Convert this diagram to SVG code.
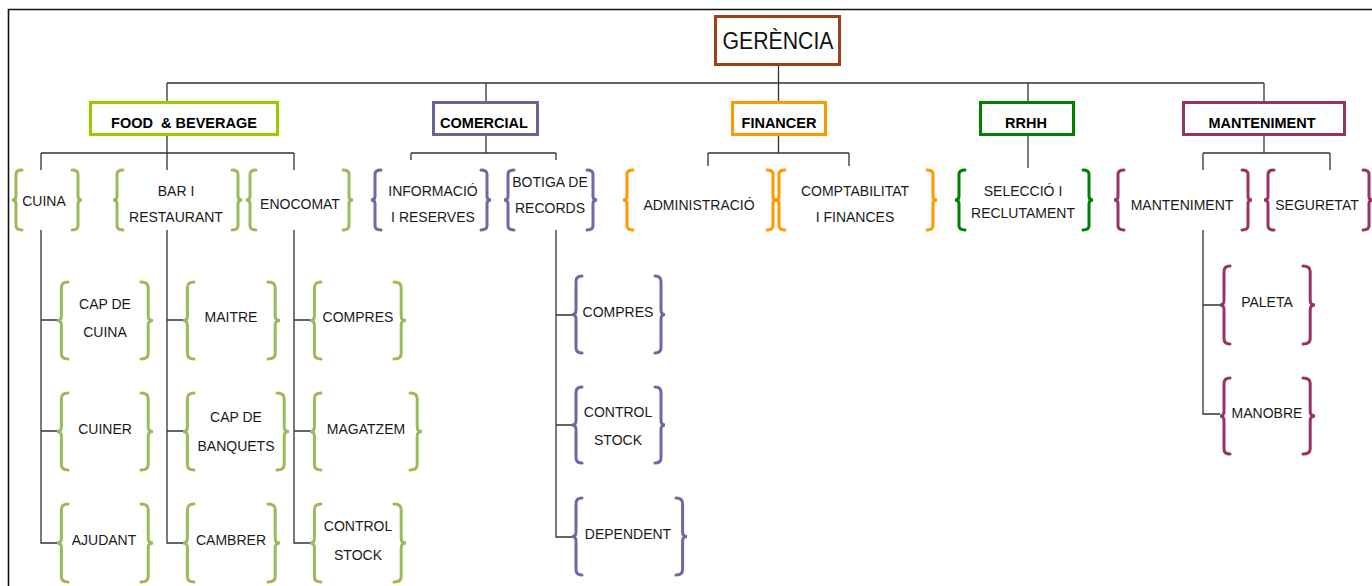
<svg xmlns="http://www.w3.org/2000/svg" xmlns:xlink="http://www.w3.org/1999/xlink" width="1372" height="586" viewBox="0 0 1372 586">
<style>
.ln{fill:none;stroke:#333;stroke-width:1.3}
.frame{fill:none;stroke:#111;stroke-width:1.6}
.box{fill:#fff;stroke-width:3}
.br{stroke-width:3}
.t{font-family:"Liberation Sans",Arial,sans-serif;font-size:14px;fill:#1a1a1a;text-anchor:middle}
.b{font-family:"Liberation Sans",Arial,sans-serif;font-size:14.5px;font-weight:bold;fill:#000;text-anchor:middle;white-space:pre}
.g{stroke:#9BBB59}.p{stroke:#6B6BA3}.o{stroke:#FF9900}.dg{stroke:#008000}.m{stroke:#993366}
</style>
<defs>
<path id="lb" d="M10,0 Q4,0 4,7 L4,44 Q4,50 0,50 Q4,50 4,56 L4,93 Q4,100 10,100" fill="none" vector-effect="non-scaling-stroke" stroke-linecap="round"/>
<path id="rb" d="M0,0 Q6,0 6,7 L6,44 Q6,50 10,50 Q6,50 6,56 L6,93 Q6,100 0,100" fill="none" vector-effect="non-scaling-stroke" stroke-linecap="round"/>
</defs>
<rect width="1372" height="586" fill="#fff"/>
<path class="frame" d="M8.5,586 V9.5 H1372"/>

<g id="connectors">
<path class="ln" d="M778.5,66 V83 M167,83 H1264 M167,83 V101 M486,83 V101 M778.5,83 V101 M1028,83 V101 M1264,83 V101"/>
<path class="ln" d="M167,136 V170 M41,153 H294 M41,153 V170 M294,153 V170 M41,230 V543 H57 M41,320 H57 M41,431 H57 M167,230 V543 H183 M167,320 H183 M167,431 H183 M294,230 V543 H310 M294,320 H310 M294,431 H310"/>
<path class="ln" d="M486,136 V153 M411,153 H556 M411,153 V160 M556,153 V160 M556,230 V537 H572 M556,315 H572 M556,425 H572"/>
<path class="ln" d="M778.5,136 V153 M708,153 H849 M708,153 V166 M849,153 V166"/>
<path class="ln" d="M1028,136 V168"/>
<path class="ln" d="M1264,136 V153 M1203,153 H1330 M1203,153 V170 M1330,153 V170 M1203,230 V414 H1220 M1203,305 H1220"/>
</g>

<g id="gerencia">
<rect class="box" x="715.5" y="16.5" width="124" height="48" stroke="#A0401A"/>
<text x="778" y="49" font-family="Liberation Sans,Arial,sans-serif" font-size="23" fill="#111" text-anchor="middle" textLength="111" lengthAdjust="spacingAndGlyphs">GERÈNCIA</text>
</g>

<g id="food-beverage">
<rect class="box" x="90.5" y="102.5" width="187" height="32" stroke="#99CC00"/>
<text class="b" x="184" y="128">FOOD  &amp; BEVERAGE</text>
</g>
<g id="comercial">
<rect class="box" x="433.5" y="102.5" width="104" height="32" stroke="#666699"/>
<text class="b" x="484" y="128">COMERCIAL</text>
</g>
<g id="financer">
<rect class="box" x="732.5" y="102.5" width="93" height="32" stroke="#FF9900"/>
<text class="b" x="779" y="128">FINANCER</text>
</g>
<g id="rrhh">
<rect class="box" x="980.5" y="102.5" width="93" height="32" stroke="#008000"/>
<text class="b" x="1026" y="128">RRHH</text>
</g>
<g id="manteniment-dept">
<rect class="box" x="1183.5" y="102.5" width="161" height="32" stroke="#993366"/>
<text class="b" x="1262" y="128">MANTENIMENT</text>
</g>

<!-- level 2 -->
<g id="cuina">
<use href="#lb" class="br g" transform="translate(12,170) scale(1,0.6)"/>
<use href="#rb" class="br g" transform="translate(72,170) scale(1,0.6)"/>
<text class="t" x="44" y="206">CUINA</text>
</g>
<g id="bar-restaurant">
<use href="#lb" class="br g" transform="translate(113,170) scale(1,0.6)"/>
<use href="#rb" class="br g" transform="translate(232,170) scale(1,0.6)"/>
<text class="t" x="176" y="196">BAR I</text>
<text class="t" x="176" y="222">RESTAURANT</text>
</g>
<g id="enocomat">
<use href="#lb" class="br g" transform="translate(246,170) scale(1,0.6)"/>
<use href="#rb" class="br g" transform="translate(343,170) scale(1,0.6)"/>
<text class="t" x="300" y="209">ENOCOMAT</text>
</g>
<g id="informacio">
<use href="#lb" class="br p" transform="translate(371,170) scale(1,0.6)"/>
<use href="#rb" class="br p" transform="translate(481,170) scale(1,0.6)"/>
<text class="t" x="433" y="196">INFORMACIÓ</text>
<text class="t" x="433" y="222">I RESERVES</text>
</g>
<g id="botiga">
<use href="#lb" class="br p" transform="translate(504,170) scale(1,0.6)"/>
<use href="#rb" class="br p" transform="translate(587,170) scale(1,0.6)"/>
<text class="t" x="550" y="187">BOTIGA DE</text>
<text class="t" x="550" y="213">RECORDS</text>
</g>
<g id="administracio">
<use href="#lb" class="br o" transform="translate(623,170) scale(1,0.6)"/>
<use href="#rb" class="br o" transform="translate(767,170) scale(1,0.6)"/>
<text class="t" x="699" y="210">ADMINISTRACIÓ</text>
</g>
<g id="comptabilitat">
<use href="#lb" class="br o" transform="translate(775,170) scale(1,0.6)"/>
<use href="#rb" class="br o" transform="translate(927,170) scale(1,0.6)"/>
<text class="t" x="855" y="196">COMPTABILITAT</text>
<text class="t" x="855" y="222">I FINANCES</text>
</g>
<g id="seleccio">
<use href="#lb" class="br dg" transform="translate(955,170) scale(1,0.6)"/>
<use href="#rb" class="br dg" transform="translate(1083,170) scale(1,0.6)"/>
<text class="t" x="1023" y="196">SELECCIÓ I</text>
<text class="t" x="1023" y="218">RECLUTAMENT</text>
</g>
<g id="manteniment">
<use href="#lb" class="br m" transform="translate(1114,170) scale(1,0.6)"/>
<use href="#rb" class="br m" transform="translate(1242,170) scale(1,0.6)"/>
<text class="t" x="1182" y="210">MANTENIMENT</text>
</g>
<g id="seguretat">
<use href="#lb" class="br m" transform="translate(1264,170) scale(1,0.6)"/>
<use href="#rb" class="br m" transform="translate(1363,170) scale(1,0.6)"/>
<text class="t" x="1317" y="210">SEGURETAT</text>
</g>

<!-- level 3: cuina -->
<g id="cap-de-cuina">
<use href="#lb" class="br g" transform="translate(57,282) scale(1.1,0.77)"/>
<use href="#rb" class="br g" transform="translate(141,282) scale(1.2,0.77)"/>
<text class="t" x="105" y="309">CAP DE</text>
<text class="t" x="105" y="337">CUINA</text>
</g>
<g id="cuiner">
<use href="#lb" class="br g" transform="translate(57,393) scale(1.1,0.77)"/>
<use href="#rb" class="br g" transform="translate(141,393) scale(1.2,0.77)"/>
<text class="t" x="105" y="434">CUINER</text>
</g>
<g id="ajudant">
<use href="#lb" class="br g" transform="translate(57,504) scale(1.1,0.78)"/>
<use href="#rb" class="br g" transform="translate(141,504) scale(1.2,0.78)"/>
<text class="t" x="104" y="545">AJUDANT</text>
</g>
<!-- bar -->
<g id="maitre">
<use href="#lb" class="br g" transform="translate(183,282) scale(1.1,0.77)"/>
<use href="#rb" class="br g" transform="translate(268,282) scale(1.2,0.77)"/>
<text class="t" x="231" y="322">MAITRE</text>
</g>
<g id="cap-de-banquets">
<use href="#lb" class="br g" transform="translate(183,393) scale(1.1,0.77)"/>
<use href="#rb" class="br g" transform="translate(277,393) scale(1.2,0.77)"/>
<text class="t" x="236" y="422">CAP DE</text>
<text class="t" x="236" y="451">BANQUETS</text>
</g>
<g id="cambrer">
<use href="#lb" class="br g" transform="translate(183,504) scale(1.1,0.78)"/>
<use href="#rb" class="br g" transform="translate(268,504) scale(1.2,0.78)"/>
<text class="t" x="231" y="545">CAMBRER</text>
</g>
<!-- enocomat -->
<g id="compres-eno">
<use href="#lb" class="br g" transform="translate(310,282) scale(1.1,0.77)"/>
<use href="#rb" class="br g" transform="translate(394,282) scale(1.2,0.77)"/>
<text class="t" x="358" y="322">COMPRES</text>
</g>
<g id="magatzem">
<use href="#lb" class="br g" transform="translate(310,393) scale(1.1,0.77)"/>
<use href="#rb" class="br g" transform="translate(410,393) scale(1.2,0.77)"/>
<text class="t" x="366" y="434">MAGATZEM</text>
</g>
<g id="control-stock-eno">
<use href="#lb" class="br g" transform="translate(310,504) scale(1.1,0.78)"/>
<use href="#rb" class="br g" transform="translate(394,504) scale(1.2,0.78)"/>
<text class="t" x="358" y="531">CONTROL</text>
<text class="t" x="358" y="560">STOCK</text>
</g>
<!-- botiga -->
<g id="compres-botiga">
<use href="#lb" class="br p" transform="translate(572,276) scale(1,0.77)"/>
<use href="#rb" class="br p" transform="translate(655,276) scale(1,0.77)"/>
<text class="t" x="618" y="317">COMPRES</text>
</g>
<g id="control-stock-botiga">
<use href="#lb" class="br p" transform="translate(572,387) scale(1,0.76)"/>
<use href="#rb" class="br p" transform="translate(655,387) scale(1,0.76)"/>
<text class="t" x="618" y="417">CONTROL</text>
<text class="t" x="618" y="445">STOCK</text>
</g>
<g id="dependent">
<use href="#lb" class="br p" transform="translate(572,498) scale(1,0.77)"/>
<use href="#rb" class="br p" transform="translate(676,498) scale(1.1,0.77)"/>
<text class="t" x="628" y="539">DEPENDENT</text>
</g>
<!-- manteniment -->
<g id="paleta">
<use href="#lb" class="br m" transform="translate(1220,266) scale(1,0.78)"/>
<use href="#rb" class="br m" transform="translate(1303,266) scale(1.2,0.78)"/>
<text class="t" x="1267" y="307">PALETA</text>
</g>
<g id="manobre">
<use href="#lb" class="br m" transform="translate(1220,378) scale(1,0.76)"/>
<use href="#rb" class="br m" transform="translate(1303,378) scale(1.2,0.76)"/>
<text class="t" x="1267" y="418">MANOBRE</text>
</g>
</svg>
